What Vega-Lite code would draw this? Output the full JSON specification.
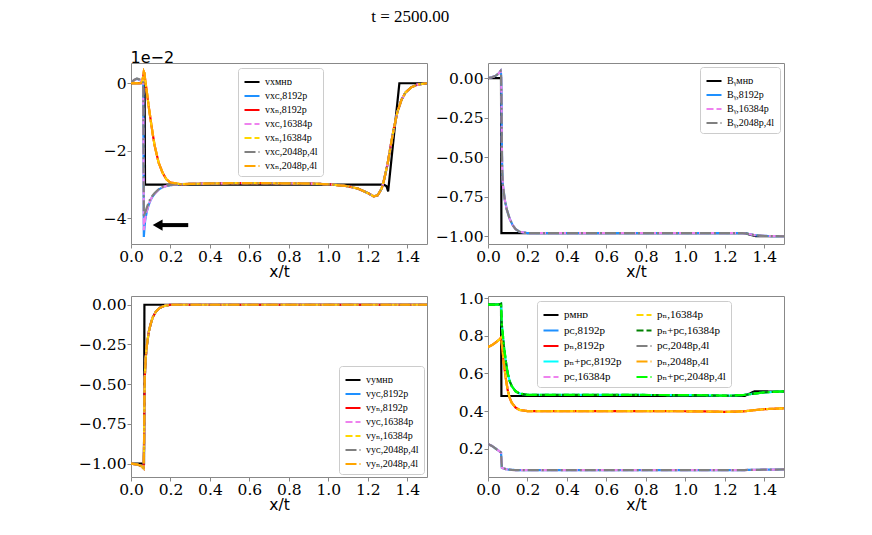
{
  "$schema": "https://vega.github.io/schema/vega-lite/v6.json",
  "background": "white",
  "padding": {"left": 78, "top": 7, "right": 5, "bottom": 5},
  "title": {"text": "t = 2500.00", "font": "Liberation Serif, DejaVu Serif, serif", "fontSize": 17, "fontWeight": "normal", "anchor": "middle", "dx": -21, "offset": 23, "color": "black"},
  "columns": 2,
  "spacing": {"row": 9, "column": 7},
  "resolve": {
    "scale": {"color": "independent", "strokeDash": "independent", "x": "independent", "y": "independent"},
    "legend": {"color": "independent", "strokeDash": "independent"}
  },
  "config": {
    "view": {"stroke": "#888888", "strokeWidth": 1},
    "axis": {"grid": false, "domain": false, "ticks": true, "tickColor": "#888888", "tickSize": 4, "labelFlush": false, "labelFont": "DejaVu Serif, Liberation Serif, serif", "labelFontSize": 15.5, "labelColor": "black", "labelPadding": 1, "titleFont": "DejaVu Sans", "titleFontSize": 15.5, "titleFontWeight": "normal", "titleColor": "black", "titlePadding": 0},
    "legend": {"fillColor": "white", "strokeColor": "#cccccc", "cornerRadius": 3, "padding": 5, "labelFont": "Liberation Serif, DejaVu Serif, serif", "labelFontSize": 10, "labelColor": "black", "symbolSize": 225, "symbolStrokeWidth": 2.2, "symbolType": "stroke", "rowPadding": 0, "labelLimit": 300}
  },
  "concat": [
    {
      "width": 296,
      "height": 181,
      "layer": [
        {
          "data": {"values": [
            {"x": 0, "m": 0, "c8": 0, "n8": 0, "c16": 0, "n16": 0, "c2": 0, "n2": 0},
            {"x": 0.015, "c8": 0.09, "n8": 0.01, "c16": 0.09, "n16": 0.01, "c2": 0.1, "n2": 0.01},
            {"x": 0.03, "c8": 0.13, "n8": 0, "c16": 0.13, "n16": 0, "c2": 0.14, "n2": 0},
            {"x": 0.045, "c8": 0.1, "n8": 0, "c16": 0.1, "n16": 0, "c2": 0.11, "n2": 0},
            {"x": 0.055, "c8": 0.05, "n8": 0.03, "c16": 0.05, "n16": 0.03, "c2": 0.06, "n2": 0.03},
            {"x": 0.062, "c8": 0.01, "n8": 0.2, "c16": 0.01, "n16": 0.2, "c2": 0.02, "n2": 0.2},
            {"x": 0.065, "c8": -4.55, "n8": 0.34, "c16": -4.35, "n16": 0.34, "c2": -3.95, "n2": 0.34},
            {"x": 0.068, "c8": -4.3, "n8": 0.3, "c16": -4.2, "n16": 0.3, "c2": -3.9, "n2": 0.3},
            {"x": 0.069, "m": 0},
            {"x": 0.071, "m": -3.0},
            {"x": 0.072, "c8": -4.05, "n8": 0.1, "c16": -4.0, "n16": 0.1, "c2": -3.82, "n2": 0.1},
            {"x": 0.08, "c8": -3.8, "n8": -0.25, "c16": -3.78, "n16": -0.25, "c2": -3.68, "n2": -0.25},
            {"x": 0.09, "c8": -3.6, "n8": -0.7, "c16": -3.59, "n16": -0.7, "c2": -3.52, "n2": -0.7},
            {"x": 0.1, "c8": -3.45, "n8": -1.1, "c16": -3.44, "n16": -1.1, "c2": -3.4, "n2": -1.1},
            {"x": 0.11, "c8": -3.35, "n8": -1.5, "c16": -3.34, "n16": -1.5, "c2": -3.32, "n2": -1.5},
            {"x": 0.12, "c8": -3.27, "n8": -1.85, "c16": -3.27, "n16": -1.85, "c2": -3.25, "n2": -1.85},
            {"x": 0.14, "c8": -3.15, "n8": -2.35, "c16": -3.15, "n16": -2.35, "c2": -3.14, "n2": -2.35},
            {"x": 0.16, "c8": -3.08, "n8": -2.65, "c16": -3.08, "n16": -2.65, "c2": -3.07, "n2": -2.65},
            {"x": 0.18, "c8": -3.04, "n8": -2.85, "c16": -3.04, "n16": -2.85, "c2": -3.03, "n2": -2.85},
            {"x": 0.2, "c8": -3.02, "n8": -2.94, "c16": -3.02, "n16": -2.94, "c2": -3.01, "n2": -2.94},
            {"x": 0.25, "c8": -2.99, "n8": -2.99, "c16": -2.99, "n16": -2.99, "c2": -2.99, "n2": -2.99},
            {"x": 0.3, "c8": -2.98, "n8": -2.98, "c16": -2.98, "n16": -2.98, "c2": -2.98, "n2": -2.98},
            {"x": 0.5, "c8": -2.96, "n8": -2.96, "c16": -2.96, "n16": -2.96, "c2": -2.96, "n2": -2.96},
            {"x": 0.7, "c8": -2.96, "n8": -2.96, "c16": -2.96, "n16": -2.96, "c2": -2.96, "n2": -2.96},
            {"x": 0.9, "c8": -2.97, "n8": -2.97, "c16": -2.97, "n16": -2.97, "c2": -2.97, "n2": -2.97},
            {"x": 1.0, "c8": -2.99, "n8": -2.99, "c16": -2.99, "n16": -2.99, "c2": -2.99, "n2": -2.99},
            {"x": 1.1, "c8": -3.05, "n8": -3.05, "c16": -3.05, "n16": -3.05, "c2": -3.05, "n2": -3.05},
            {"x": 1.15, "c8": -3.12, "n8": -3.12, "c16": -3.12, "n16": -3.12, "c2": -3.12, "n2": -3.12},
            {"x": 1.2, "c8": -3.25, "n8": -3.25, "c16": -3.25, "n16": -3.25, "c2": -3.25, "n2": -3.25},
            {"x": 1.23, "c8": -3.35, "n8": -3.35, "c16": -3.35, "n16": -3.35, "c2": -3.35, "n2": -3.35},
            {"x": 1.25, "c8": -3.32, "n8": -3.32, "c16": -3.32, "n16": -3.32, "c2": -3.32, "n2": -3.32},
            {"x": 1.27, "c8": -3.12, "n8": -3.12, "c16": -3.12, "n16": -3.12, "c2": -3.12, "n2": -3.12},
            {"x": 1.28, "m": -3.0, "c8": -2.92, "n8": -2.92, "c16": -2.92, "n16": -2.92, "c2": -2.92, "n2": -2.92},
            {"x": 1.295, "m": -3.05},
            {"x": 1.3, "c8": -2.4, "n8": -2.4, "c16": -2.4, "n16": -2.4, "c2": -2.4, "n2": -2.4},
            {"x": 1.303, "m": -3.2},
            {"x": 1.31, "c8": -2.05, "n8": -2.05, "c16": -2.05, "n16": -2.05, "c2": -2.05, "n2": -2.05},
            {"x": 1.33, "c8": -1.4, "n8": -1.4, "c16": -1.4, "n16": -1.4, "c2": -1.4, "n2": -1.4},
            {"x": 1.35, "c8": -0.85, "n8": -0.85, "c16": -0.85, "n16": -0.85, "c2": -0.85, "n2": -0.85},
            {"x": 1.36, "m": 0},
            {"x": 1.37, "c8": -0.5, "n8": -0.5, "c16": -0.5, "n16": -0.5, "c2": -0.5, "n2": -0.5},
            {"x": 1.39, "c8": -0.28, "n8": -0.28, "c16": -0.28, "n16": -0.28, "c2": -0.28, "n2": -0.28},
            {"x": 1.42, "c8": -0.12, "n8": -0.12, "c16": -0.12, "n16": -0.12, "c2": -0.12, "n2": -0.12},
            {"x": 1.45, "c8": -0.04, "n8": -0.04, "c16": -0.04, "n16": -0.04, "c2": -0.04, "n2": -0.04},
            {"x": 1.5, "m": 0, "c8": 0, "n8": 0, "c16": 0, "n16": 0, "c2": 0, "n2": 0}
          ]},
          "transform": [
            {"fold": ["m", "c8", "n8", "c16", "n16", "c2", "n2"], "as": ["s", "v"]},
            {"filter": "isValid(datum.v)"}
          ],
          "mark": {"type": "line", "clip": true, "strokeWidth": 2.2},
          "encoding": {
            "x": {"field": "x", "type": "quantitative", "scale": {"domain": [0, 1.5], "nice": false, "zero": false}, "axis": {"values": [0, 0.2, 0.4, 0.6, 0.8, 1, 1.2, 1.4], "format": ".1f", "title": "x/t"}},
            "y": {"field": "v", "type": "quantitative", "scale": {"domain": [-4.76, 0.6], "nice": false, "zero": false}, "axis": {"values": [-4, -2, 0], "format": "d", "title": "1e−2", "titleAngle": 0, "titleAlign": "left", "titleBaseline": "alphabetic", "titleX": -1, "titleY": -1, "titleFontSize": 16}},
            "color": {"field": "s", "type": "nominal", "scale": {"domain": ["m", "c8", "n8", "c16", "n16", "c2", "n2"], "range": ["black", "#1e90ff", "red", "violet", "gold", "grey", "orange"]},
              "legend": {"title": null, "orient": "none", "legendX": 107, "legendY": 5, "labelExpr": "{'m':'vxᴍʜᴅ','c8':'vxᴄ,8192p','n8':'vxₙ,8192p','c16':'vxᴄ,16384p','n16':'vxₙ,16384p','c2':'vxᴄ,2048p,4l','n2':'vxₙ,2048p,4l'}[datum.label]"}},
            "strokeDash": {"field": "s", "type": "nominal", "scale": {"domain": ["m", "c8", "n8", "c16", "n16", "c2", "n2"], "range": [[1, 0], [1, 0], [1, 0], [7, 3], [7, 3], [11, 3, 2, 3], [11, 3, 2, 3]]},
              "legend": {"title": null, "orient": "none", "legendX": 107, "legendY": 5, "labelExpr": "{'m':'vxᴍʜᴅ','c8':'vxᴄ,8192p','n8':'vxₙ,8192p','c16':'vxᴄ,16384p','n16':'vxₙ,16384p','c2':'vxᴄ,2048p,4l','n2':'vxₙ,2048p,4l'}[datum.label]"}}
          }
        },
        {
          "data": {"values": [{"x": 0.14, "x2": 0.29, "v": -4.2}]},
          "mark": {"type": "rule", "strokeWidth": 4, "color": "black"},
          "encoding": {
            "x": {"field": "x", "type": "quantitative"},
            "x2": {"field": "x2"},
            "y": {"field": "v", "type": "quantitative"}
          }
        },
        {
          "data": {"values": [{"x": 0.135, "v": -4.2}]},
          "mark": {"type": "point", "shape": "triangle-left", "filled": true, "size": 130, "color": "black", "opacity": 1},
          "encoding": {
            "x": {"field": "x", "type": "quantitative"},
            "y": {"field": "v", "type": "quantitative"}
          }
        }
      ]
    },
    {
      "width": 296,
      "height": 181,
      "data": {"values": [
        {"x": 0, "m": 0, "c8": 0, "c16": 0, "c2": 0},
        {"x": 0.02, "c8": 0.005, "c16": 0.005, "c2": 0.005},
        {"x": 0.04, "c8": 0.015, "c16": 0.015, "c2": 0.015},
        {"x": 0.055, "c8": 0.03, "c16": 0.03, "c2": 0.03},
        {"x": 0.064, "c8": 0.045, "c16": 0.045, "c2": 0.045},
        {"x": 0.066, "m": 0, "c8": 0.03, "c16": 0.03, "c2": 0.03},
        {"x": 0.068, "m": -0.98, "c8": -0.1, "c16": -0.1, "c2": -0.1},
        {"x": 0.07, "c8": -0.4, "c16": -0.4, "c2": -0.4},
        {"x": 0.072, "c8": -0.58, "c16": -0.58, "c2": -0.58},
        {"x": 0.075, "c8": -0.67, "c16": -0.67, "c2": -0.67},
        {"x": 0.085, "c8": -0.77, "c16": -0.77, "c2": -0.77},
        {"x": 0.095, "c8": -0.83, "c16": -0.83, "c2": -0.83},
        {"x": 0.11, "c8": -0.89, "c16": -0.89, "c2": -0.89},
        {"x": 0.125, "c8": -0.93, "c16": -0.93, "c2": -0.93},
        {"x": 0.14, "c8": -0.955, "c16": -0.955, "c2": -0.955},
        {"x": 0.16, "c8": -0.972, "c16": -0.972, "c2": -0.972},
        {"x": 0.2, "c8": -0.98, "c16": -0.98, "c2": -0.98},
        {"x": 0.6, "c8": -0.98, "c16": -0.98, "c2": -0.98},
        {"x": 1.0, "c8": -0.98, "c16": -0.98, "c2": -0.98},
        {"x": 1.29, "c8": -0.98, "c16": -0.98, "c2": -0.98},
        {"x": 1.3, "m": -0.98},
        {"x": 1.32, "c8": -0.985, "c16": -0.985, "c2": -0.985},
        {"x": 1.35, "c8": -0.993, "c16": -0.993, "c2": -0.993},
        {"x": 1.36, "m": -1.0},
        {"x": 1.4, "c8": -0.998, "c16": -0.998, "c2": -0.998},
        {"x": 1.5, "m": -1.0, "c8": -1.0, "c16": -1.0, "c2": -1.0}
      ]},
      "transform": [
        {"fold": ["m", "c8", "c16", "c2"], "as": ["s", "v"]},
        {"filter": "isValid(datum.v)"}
      ],
      "mark": {"type": "line", "clip": true, "strokeWidth": 2.2},
      "encoding": {
        "x": {"field": "x", "type": "quantitative", "scale": {"domain": [0, 1.5], "nice": false, "zero": false}, "axis": {"values": [0, 0.2, 0.4, 0.6, 0.8, 1, 1.2, 1.4], "format": ".1f", "title": "x/t"}},
        "y": {"field": "v", "type": "quantitative", "scale": {"domain": [-1.049, 0.095], "nice": false, "zero": false}, "axis": {"values": [-1, -0.75, -0.5, -0.25, 0], "format": ".2f", "title": null}},
        "color": {"field": "s", "type": "nominal", "scale": {"domain": ["m", "c8", "c16", "c2"], "range": ["black", "#1e90ff", "violet", "grey"]},
          "legend": {"title": null, "orient": "top-right", "offset": 4, "labelExpr": "{'m':'Bᵧᴍʜᴅ','c8':'Bᵧ,8192p','c16':'Bᵧ,16384p','c2':'Bᵧ,2048p,4l'}[datum.label]"}},
        "strokeDash": {"field": "s", "type": "nominal", "scale": {"domain": ["m", "c8", "c16", "c2"], "range": [[1, 0], [1, 0], [7, 3], [11, 3, 2, 3]]},
          "legend": {"title": null, "orient": "top-right", "offset": 4, "labelExpr": "{'m':'Bᵧᴍʜᴅ','c8':'Bᵧ,8192p','c16':'Bᵧ,16384p','c2':'Bᵧ,2048p,4l'}[datum.label]"}}
      }
    },
    {
      "width": 296,
      "height": 181,
      "data": {"values": [
        {"x": 0, "m": -1.0, "c8": -1.0, "n8": -1.0, "c16": -1.0, "n16": -1.0, "c2": -1.0, "n2": -1.0},
        {"x": 0.03, "c8": -1.005, "n8": -1.005, "c16": -1.005, "n16": -1.005, "c2": -1.005, "n2": -1.005},
        {"x": 0.05, "c8": -1.013, "n8": -1.013, "c16": -1.013, "n16": -1.013, "c2": -1.013, "n2": -1.013},
        {"x": 0.06, "c8": -1.025, "n8": -1.025, "c16": -1.025, "n16": -1.025, "c2": -1.025, "n2": -1.025},
        {"x": 0.064, "c8": -1.03, "n8": -1.03, "c16": -1.03, "n16": -1.03, "c2": -1.03, "n2": -1.03},
        {"x": 0.066, "m": -1.0, "c8": -0.9, "n8": -0.9, "c16": -0.9, "n16": -0.9, "c2": -0.9, "n2": -0.9},
        {"x": 0.068, "m": 0, "c8": -0.6, "n8": -0.6, "c16": -0.6, "n16": -0.6, "c2": -0.6, "n2": -0.6},
        {"x": 0.07, "c8": -0.45, "n8": -0.45, "c16": -0.45, "n16": -0.45, "c2": -0.45, "n2": -0.45},
        {"x": 0.075, "c8": -0.33, "n8": -0.33, "c16": -0.33, "n16": -0.33, "c2": -0.33, "n2": -0.33},
        {"x": 0.08, "c8": -0.26, "n8": -0.26, "c16": -0.26, "n16": -0.26, "c2": -0.26, "n2": -0.26},
        {"x": 0.09, "c8": -0.17, "n8": -0.17, "c16": -0.17, "n16": -0.17, "c2": -0.17, "n2": -0.17},
        {"x": 0.1, "c8": -0.12, "n8": -0.12, "c16": -0.12, "n16": -0.12, "c2": -0.12, "n2": -0.12},
        {"x": 0.11, "c8": -0.08, "n8": -0.08, "c16": -0.08, "n16": -0.08, "c2": -0.08, "n2": -0.08},
        {"x": 0.125, "c8": -0.045, "n8": -0.045, "c16": -0.045, "n16": -0.045, "c2": -0.045, "n2": -0.045},
        {"x": 0.145, "c8": -0.02, "n8": -0.02, "c16": -0.02, "n16": -0.02, "c2": -0.02, "n2": -0.02},
        {"x": 0.17, "c8": -0.007, "n8": -0.007, "c16": -0.007, "n16": -0.007, "c2": -0.007, "n2": -0.007},
        {"x": 0.2, "c8": 0, "n8": 0, "c16": 0, "n16": 0, "c2": 0, "n2": 0},
        {"x": 1.5, "m": 0, "c8": 0, "n8": 0, "c16": 0, "n16": 0, "c2": 0, "n2": 0}
      ]},
      "transform": [
        {"fold": ["m", "c8", "n8", "c16", "n16", "c2", "n2"], "as": ["s", "v"]},
        {"filter": "isValid(datum.v)"}
      ],
      "mark": {"type": "line", "clip": true, "strokeWidth": 2.2},
      "encoding": {
        "x": {"field": "x", "type": "quantitative", "scale": {"domain": [0, 1.5], "nice": false, "zero": false}, "axis": {"values": [0, 0.2, 0.4, 0.6, 0.8, 1, 1.2, 1.4], "format": ".1f", "title": "x/t"}},
        "y": {"field": "v", "type": "quantitative", "scale": {"domain": [-1.084, 0.055], "nice": false, "zero": false}, "axis": {"values": [-1, -0.75, -0.5, -0.25, 0], "format": ".2f", "title": null}},
        "color": {"field": "s", "type": "nominal", "scale": {"domain": ["m", "c8", "n8", "c16", "n16", "c2", "n2"], "range": ["black", "#1e90ff", "red", "violet", "gold", "grey", "orange"]},
          "legend": {"title": null, "orient": "bottom-right", "offset": 3, "labelExpr": "{'m':'vyᴍʜᴅ','c8':'vyᴄ,8192p','n8':'vyₙ,8192p','c16':'vyᴄ,16384p','n16':'vyₙ,16384p','c2':'vyᴄ,2048p,4l','n2':'vyₙ,2048p,4l'}[datum.label]"}},
        "strokeDash": {"field": "s", "type": "nominal", "scale": {"domain": ["m", "c8", "n8", "c16", "n16", "c2", "n2"], "range": [[1, 0], [1, 0], [1, 0], [7, 3], [7, 3], [11, 3, 2, 3], [11, 3, 2, 3]]},
          "legend": {"title": null, "orient": "bottom-right", "offset": 3, "labelExpr": "{'m':'vyᴍʜᴅ','c8':'vyᴄ,8192p','n8':'vyₙ,8192p','c16':'vyᴄ,16384p','n16':'vyₙ,16384p','c2':'vyᴄ,2048p,4l','n2':'vyₙ,2048p,4l'}[datum.label]"}}
      }
    },
    {
      "width": 296,
      "height": 181,
      "data": {"values": [
        {"x": 0, "m": 0.967, "c8": 0.225, "n8": 0.74, "s8": 0.965, "c16": 0.225, "n16": 0.74, "s16": 0.965, "c2": 0.225, "n2": 0.74, "s2": 0.965},
        {"x": 0.02, "c8": 0.215, "n8": 0.75, "s8": 0.965, "c16": 0.215, "n16": 0.75, "s16": 0.965, "c2": 0.215, "n2": 0.75, "s2": 0.965},
        {"x": 0.04, "c8": 0.2, "n8": 0.765, "s8": 0.965, "c16": 0.2, "n16": 0.765, "s16": 0.965, "c2": 0.2, "n2": 0.765, "s2": 0.965},
        {"x": 0.06, "c8": 0.185, "n8": 0.782, "s8": 0.967, "c16": 0.185, "n16": 0.782, "s16": 0.967, "c2": 0.185, "n2": 0.782, "s2": 0.967},
        {"x": 0.066, "m": 0.967, "c8": 0.18, "n8": 0.79, "s8": 0.97, "c16": 0.18, "n16": 0.79, "s16": 0.97, "c2": 0.18, "n2": 0.79, "s2": 0.97},
        {"x": 0.068, "m": 0.48},
        {"x": 0.07, "c8": 0.1, "n8": 0.76, "s8": 0.86, "c16": 0.1, "n16": 0.76, "s16": 0.86, "c2": 0.1, "n2": 0.76, "s2": 0.86},
        {"x": 0.075, "c8": 0.097, "n8": 0.71, "s8": 0.807, "c16": 0.097, "n16": 0.71, "s16": 0.807, "c2": 0.097, "n2": 0.71, "s2": 0.807},
        {"x": 0.08, "c8": 0.095, "n8": 0.655, "s8": 0.75, "c16": 0.095, "n16": 0.655, "s16": 0.75, "c2": 0.095, "n2": 0.655, "s2": 0.75},
        {"x": 0.09, "c8": 0.092, "n8": 0.575, "s8": 0.667, "c16": 0.092, "n16": 0.575, "s16": 0.667, "c2": 0.092, "n2": 0.575, "s2": 0.667},
        {"x": 0.1, "c8": 0.09, "n8": 0.51, "s8": 0.6, "c16": 0.09, "n16": 0.51, "s16": 0.6, "c2": 0.09, "n2": 0.51, "s2": 0.6},
        {"x": 0.11, "c8": 0.089, "n8": 0.47, "s8": 0.559, "c16": 0.089, "n16": 0.47, "s16": 0.559, "c2": 0.089, "n2": 0.47, "s2": 0.559},
        {"x": 0.12, "c8": 0.088, "n8": 0.445, "s8": 0.533, "c16": 0.088, "n16": 0.445, "s16": 0.533, "c2": 0.088, "n2": 0.445, "s2": 0.533},
        {"x": 0.14, "c8": 0.087, "n8": 0.418, "s8": 0.505, "c16": 0.087, "n16": 0.418, "s16": 0.505, "c2": 0.087, "n2": 0.418, "s2": 0.505},
        {"x": 0.16, "c8": 0.087, "n8": 0.406, "s8": 0.493, "c16": 0.087, "n16": 0.406, "s16": 0.493, "c2": 0.087, "n2": 0.406, "s2": 0.493},
        {"x": 0.2, "c8": 0.086, "n8": 0.4, "s8": 0.486, "c16": 0.086, "n16": 0.4, "s16": 0.486, "c2": 0.086, "n2": 0.4, "s2": 0.486},
        {"x": 0.6, "c8": 0.086, "n8": 0.4, "s8": 0.486, "c16": 0.086, "n16": 0.4, "s16": 0.486, "c2": 0.086, "n2": 0.4, "s2": 0.486},
        {"x": 1.0, "c8": 0.086, "n8": 0.399, "s8": 0.485, "c16": 0.086, "n16": 0.399, "s16": 0.485, "c2": 0.086, "n2": 0.399, "s2": 0.485},
        {"x": 1.1, "c8": 0.086, "n8": 0.398, "s8": 0.484, "c16": 0.086, "n16": 0.398, "s16": 0.484, "c2": 0.086, "n2": 0.398, "s2": 0.484},
        {"x": 1.2, "c8": 0.086, "n8": 0.396, "s8": 0.482, "c16": 0.086, "n16": 0.396, "s16": 0.482, "c2": 0.086, "n2": 0.396, "s2": 0.482},
        {"x": 1.25, "c8": 0.086, "n8": 0.397, "s8": 0.483, "c16": 0.086, "n16": 0.397, "s16": 0.483, "c2": 0.086, "n2": 0.397, "s2": 0.483},
        {"x": 1.3, "m": 0.48, "c8": 0.087, "n8": 0.399, "s8": 0.486, "c16": 0.087, "n16": 0.399, "s16": 0.486, "c2": 0.087, "n2": 0.399, "s2": 0.486},
        {"x": 1.35, "m": 0.505, "c8": 0.088, "n8": 0.405, "s8": 0.493, "c16": 0.088, "n16": 0.405, "s16": 0.493, "c2": 0.088, "n2": 0.405, "s2": 0.493},
        {"x": 1.4, "c8": 0.089, "n8": 0.41, "s8": 0.499, "c16": 0.089, "n16": 0.41, "s16": 0.499, "c2": 0.089, "n2": 0.41, "s2": 0.499},
        {"x": 1.5, "m": 0.503, "c8": 0.09, "n8": 0.415, "s8": 0.505, "c16": 0.09, "n16": 0.415, "s16": 0.505, "c2": 0.09, "n2": 0.415, "s2": 0.505}
      ]},
      "transform": [
        {"fold": ["m", "c8", "n8", "s8", "c16", "n16", "s16", "c2", "n2", "s2"], "as": ["s", "v"]},
        {"filter": "isValid(datum.v)"}
      ],
      "mark": {"type": "line", "clip": true, "strokeWidth": 2.2},
      "encoding": {
        "x": {"field": "x", "type": "quantitative", "scale": {"domain": [0, 1.5], "nice": false, "zero": false}, "axis": {"values": [0, 0.2, 0.4, 0.6, 0.8, 1, 1.2, 1.4], "format": ".1f", "title": "x/t"}},
        "y": {"field": "v", "type": "quantitative", "scale": {"domain": [0.05, 1.011], "nice": false, "zero": false}, "axis": {"values": [0.2, 0.4, 0.6, 0.8, 1.0], "format": ".1f", "title": null}},
        "color": {"field": "s", "type": "nominal", "scale": {"domain": ["m", "c8", "n8", "s8", "c16", "n16", "s16", "c2", "n2", "s2"], "range": ["black", "#1e90ff", "red", "cyan", "violet", "gold", "green", "grey", "orange", "lime"]},
          "legend": {"title": null, "orient": "none", "legendX": 49, "legendY": 5, "columns": 2, "labelFontSize": 11, "rowPadding": 1.5, "labelExpr": "{'m':'pᴍʜᴅ','c8':'pᴄ,8192p','n8':'pₙ,8192p','s8':'pₙ+pᴄ,8192p','c16':'pᴄ,16384p','n16':'pₙ,16384p','s16':'pₙ+pᴄ,16384p','c2':'pᴄ,2048p,4l','n2':'pₙ,2048p,4l','s2':'pₙ+pᴄ,2048p,4l'}[datum.label]"}},
        "strokeDash": {"field": "s", "type": "nominal", "scale": {"domain": ["m", "c8", "n8", "s8", "c16", "n16", "s16", "c2", "n2", "s2"], "range": [[1, 0], [1, 0], [1, 0], [1, 0], [7, 3], [7, 3], [7, 3], [11, 3, 2, 3], [11, 3, 2, 3], [11, 3, 2, 3]]},
          "legend": {"title": null, "orient": "none", "legendX": 49, "legendY": 5, "columns": 2, "labelFontSize": 11, "rowPadding": 1.5, "labelExpr": "{'m':'pᴍʜᴅ','c8':'pᴄ,8192p','n8':'pₙ,8192p','s8':'pₙ+pᴄ,8192p','c16':'pᴄ,16384p','n16':'pₙ,16384p','s16':'pₙ+pᴄ,16384p','c2':'pᴄ,2048p,4l','n2':'pₙ,2048p,4l','s2':'pₙ+pᴄ,2048p,4l'}[datum.label]"}}
      }
    }
  ]
}
